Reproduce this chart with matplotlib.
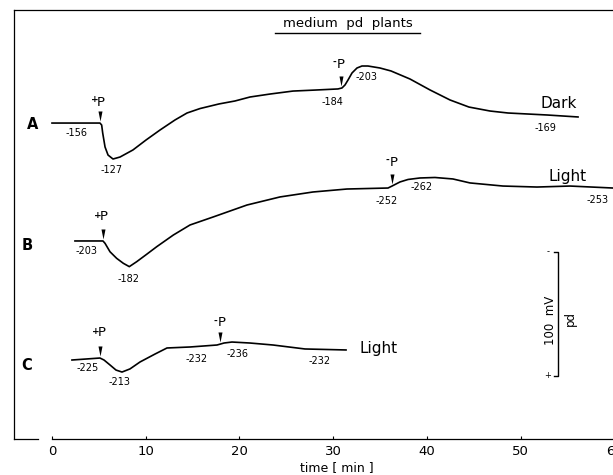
import numpy as np
import matplotlib
matplotlib.use("Agg")
import matplotlib.pyplot as plt
from matplotlib.path import Path

# ---------------- data (time in min, membrane potential pd in mV) ----------------
tA = [0.0, 5.12, 5.30, 5.41, 5.66, 5.98, 6.51, 7.26, 8.64, 10.03, 11.53, 13.13, 14.41,
      15.8, 17.82, 19.53, 21.13, 23.27, 25.72, 28.07, 30.52, 30.95, 31.27, 31.59, 32.02,
      32.55, 33.08, 33.72, 35.0, 36.18, 38.21, 40.34, 42.48, 44.5, 46.75, 48.67, 52.83, 56.14]
pdA = [-156.0, -156.0, -154.4, -148.0, -136.7, -130.2, -127.0, -128.6, -134.3, -142.3,
       -150.4, -158.5, -164.1, -167.7, -171.4, -173.8, -177.0, -179.4, -181.8, -182.6,
       -183.5, -184.3, -186.7, -190.7, -196.4, -200.4, -202.0, -202.0, -200.4, -198.0,
       -191.5, -182.7, -174.6, -168.9, -165.7, -164.1, -162.5, -160.9]

tB = [2.45, 5.44, 5.66, 6.19, 6.90, 7.61, 8.25, 9.04, 10.11, 11.18, 12.95, 14.73, 17.18,
      20.81, 24.33, 27.85, 31.48, 35.86, 36.29, 37.14, 38.0, 39.27, 40.87, 42.79, 44.61,
      48.13, 51.76, 55.28, 59.87]
pdB = [-203.0, -203.0, -201.1, -194.3, -189.0, -185.0, -182.3, -186.3, -192.3, -198.4,
       -207.8, -215.9, -222.3, -232.0, -238.5, -242.5, -244.9, -245.7, -247.3, -250.6,
       -252.6, -253.8, -254.2, -253.0, -249.8, -247.3, -246.5, -247.3, -245.7]

tC = [2.13, 5.12, 5.55, 6.19, 6.83, 7.47, 8.32, 9.39, 10.99, 12.27, 14.73, 17.61, 18.36,
      19.21, 21.13, 23.59, 27.0, 31.38]
pdC = [-224.2, -225.8, -224.2, -220.2, -216.1, -214.5, -217.0, -222.6, -229.0, -233.9,
       -234.7, -236.3, -237.9, -238.7, -237.9, -236.3, -233.1, -232.3]

# times of +P / -P treatments
treat_A = [5.1, 30.85]
treat_B = [5.4, 36.3]
treat_C = [5.1, 17.9]

# ---------------- layout ----------------
W, H = 613, 475
X0_PX, PX_PER_MIN = 52, 9.37
AX_L, AX_R, AX_T, AX_B = 14, 620, 10, 439
PX_PER_MV = 1.24
offset = {"A": 98.8, "B": -43.3, "C": -160.5}   # vertical position (mV units) of pd = 0

plt.rcParams["font.family"] = ["DejaVu Sans"]

fig = plt.figure(figsize=(W / 100, H / 100), dpi=100)
ax = fig.add_axes([AX_L / W, 1 - AX_B / H, (AX_R - AX_L) / W, (AX_B - AX_T) / H])
xmin = (AX_L - X0_PX) / PX_PER_MIN
xmax = (AX_R - X0_PX) / PX_PER_MIN
ax.set_xlim(xmin, xmax)
ax.set_ylim(0, (AX_B - AX_T) / PX_PER_MV)

ax.spines["right"].set_visible(False)
for s in ("left", "top", "bottom"):
    ax.spines[s].set_linewidth(0.9)
ax.spines["bottom"].set_bounds(0, xmax)
ax.plot([xmin, (38 - X0_PX) / PX_PER_MIN], [0, 0], color="black", lw=0.9, clip_on=False)

ax.set_yticks([])
ax.set_xticks(range(0, 61, 10))
ax.tick_params(axis="x", direction="in", length=2.5, width=0.8, pad=4, labelsize=9.5)


def ftext(xp, yp, s, **kw):
    kw.setdefault("ha", "center")
    kw.setdefault("va", "center")
    fig.text(xp / W, 1 - yp / H, s, **kw)


ftext(337, 468, "time [ min ]", fontsize=9)

# traces
arrow_marker = Path([(-2.0, 12), (2.0, 12), (0, 2), (-2.0, 12)],
                    [Path.MOVETO, Path.LINETO, Path.LINETO, Path.CLOSEPOLY])
for key, t, pd, tr in (("A", tA, pdA, treat_A), ("B", tB, pdB, treat_B), ("C", tC, pdC, treat_C)):
    y = offset[key] - np.array(pd)
    ax.plot(t, y, color="black", lw=1.2, solid_joinstyle="round")
    ty = np.interp(tr, t, y)
    ax.plot(tr, ty, linestyle="none", marker=arrow_marker, markersize=17.3,
            color="black", markeredgewidth=0)

# trace letters
for s, xp, yp in (("A", 33, 125), ("B", 27, 245), ("C", 27, 365)):
    ftext(xp, yp, s, fontsize=10.5, fontweight="bold")

# condition labels
ftext(559, 103, "Dark", fontsize=11)
ftext(568, 176, "Light", fontsize=11)
ftext(379, 349, "Light", fontsize=11)

# +P / -P labels
for sign, xp, yp in (("+", 99, 102), ("-", 339, 64), ("+", 102, 217), ("-", 392, 162),
                     ("+", 100, 333), ("-", 220, 323)):
    ftext(xp - 4.5, yp - 2, sign, fontsize=6.5, fontweight="bold")
    ftext(xp + 2, yp, "P", fontsize=9.5)

# value labels
vals = [("-156", 77, 133), ("-127", 112, 170), ("-184", 332, 102), ("-203", 367, 77),
        ("-169", 545, 128),
        ("-203", 87, 251), ("-182", 129, 279), ("-252", 387, 201), ("-262", 422, 187),
        ("-253", 598, 200),
        ("-225", 88, 368), ("-213", 120, 382), ("-232", 197, 359), ("-236", 238, 354),
        ("-232", 320, 361)]
for s, xp, yp in vals:
    ftext(xp, yp, s, fontsize=7)

# title, underlined
ftext(348, 24, "medium  pd  plants", fontsize=9.5)
fig.add_artist(plt.Line2D([275 / W, 420 / W], [1 - 33 / H, 1 - 33 / H], color="black", lw=1.0))

# 100 mV scale bar
sb_t = (558 - X0_PX) / PX_PER_MIN
sb_lo = (AX_B - 376) / PX_PER_MV
sb_hi = sb_lo + 100
hook = 4 / PX_PER_MIN
ax.plot([sb_t - hook, sb_t, sb_t, sb_t - hook], [sb_hi, sb_hi, sb_lo, sb_lo], color="black", lw=1.0)
ftext(548, 252, "-", fontsize=6)
ftext(548, 376, "+", fontsize=6)
ftext(550, 320, "100  mV", fontsize=8.5, rotation=90)
ftext(570, 318, "pd", fontsize=8.5, rotation=90)

fig.savefig("out.png", dpi=100)
